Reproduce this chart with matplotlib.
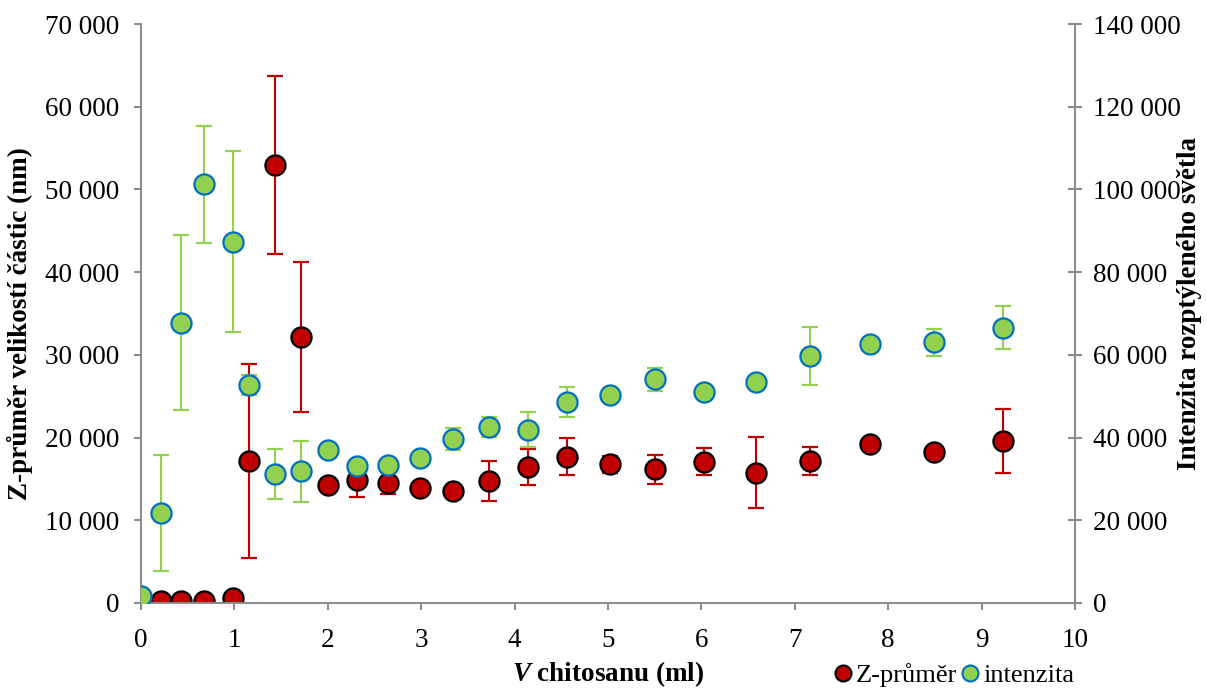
import numpy as np
import matplotlib
matplotlib.use("Agg")
import matplotlib.pyplot as plt
from matplotlib.ticker import FuncFormatter, MultipleLocator
from matplotlib.lines import Line2D

plt.rcParams['font.family'] = ['Liberation Serif', 'DejaVu Serif']
plt.rcParams['mathtext.fontset'] = 'custom'
plt.rcParams['mathtext.it'] = 'Liberation Serif:italic:bold'
plt.rcParams['mathtext.rm'] = 'Liberation Serif:bold'

# objem chitosanu (ml)
v_chitosan = [0, 0.21, 0.43, 0.67, 0.99, 1.16, 1.43, 1.71, 2.00, 2.31, 2.64, 2.99,
              3.34, 3.73, 4.14, 4.56, 5.02, 5.50, 6.03, 6.58, 7.16, 7.80, 8.49, 9.23]

# Z-prumer (nm), leva osa
z_prumer = [200, 250, 250, 250, 560, 17200, 52950, 32150, 14270, 14870, 14470, 13870,
            13540, 14750, 16480, 17690, 16770, 16160, 17090, 15760, 17200, 19180, 18200, 19600]
z_err = [0, 0, 0, 0, 0, 11750, 10750, 9050, 0, 2000, 1350, 600,
         0, 2450, 2180, 2200, 1060, 1740, 1640, 4250, 1670, 0, 0, 3870]

# intenzita rozptyleneho svetla, prava osa
intenzita = [1700, 21800, 67800, 101200, 87400, 52700, 31200, 31800, 36900, 33100, 33400, 35100,
             39600, 42500, 41900, 48600, 50300, 54100, 51000, 53400, 59800, 62600, 63000, 66600]
int_err = [0, 14050, 21200, 14150, 21800, 2500, 5950, 7450, 0, 0, 0, 0,
           2600, 2400, 4200, 3650, 0, 2750, 0, 0, 7000, 0, 3350, 5150]

RED = '#C00000'
GREEN = '#92D050'
BLUE = '#0070C0'
AXC = '#8C8C8C'
FS = 19.5

fig = plt.figure(figsize=(12.07, 6.88), dpi=100)
ax = fig.add_axes([141/1207, 85/688, 934/1207, 579/688])
ax2 = ax.twinx()

# intenzita (sekundarni osa) se kresli nad Z-prumerem
ax.errorbar(v_chitosan, z_prumer, yerr=z_err, fmt='o', ms=14.5,
            mfc=RED, mec='black', mew=1.6, ecolor=RED, elinewidth=1.5,
            capsize=5.5, capthick=1.5)
ax2.errorbar(v_chitosan, intenzita, yerr=int_err, fmt='o', ms=14.5,
             mfc=GREEN, mec=BLUE, mew=1.6, ecolor=GREEN, elinewidth=1.5,
             capsize=5.5, capthick=1.5)

fmt = FuncFormatter(lambda v, p: f"{int(v):,}".replace(",", " "))
ax.set_xlim(0, 10)
ax.set_ylim(0, 70000)
ax2.set_ylim(0, 140000)
ax.xaxis.set_major_locator(MultipleLocator(1))
ax.yaxis.set_major_locator(MultipleLocator(10000))
ax2.yaxis.set_major_locator(MultipleLocator(20000))
ax.yaxis.set_major_formatter(fmt)
ax2.yaxis.set_major_formatter(fmt)

for a in (ax, ax2):
    for s in a.spines.values():
        s.set_color(AXC)
        s.set_linewidth(1.5)
    a.spines['top'].set_visible(False)
ax.spines['right'].set_visible(False)
ax2.spines['left'].set_visible(False)
ax2.spines['bottom'].set_visible(False)

ax.tick_params(axis='both', colors=AXC, labelcolor='black', labelsize=FS,
               width=1.5, length=5, direction='out')
ax.tick_params(axis='y', pad=10.5)
ax.tick_params(axis='x', pad=13)
ax2.tick_params(axis='y', colors=AXC, labelcolor='black', labelsize=FS,
                width=1.5, length=10, direction='inout', pad=8)

fig.text(20/1207, 1 - 324/688, 'Z-průměr velikostí částic (nm)', rotation=90,
         ha='center', va='center', fontsize=FS, fontweight='bold')
fig.text(1190/1207, 1 - 303/688, 'Intenzita rozptýleného světla', rotation=90,
         ha='center', va='center', fontsize=FS, fontweight='bold')
fig.text(608/1207, 1 - 674/688, r'$\mathit{V}$ chitosanu (ml)',
         ha='center', va='center', fontsize=FS, fontweight='bold')

handles = [
    Line2D([], [], ls='none', marker='o', ms=11.5, mfc=RED, mec='black', mew=1.5),
    Line2D([], [], ls='none', marker='o', ms=11.5, mfc=GREEN, mec=BLUE, mew=1.5),
]
fig.legend(handles, ['Z-průměr', 'intenzita'], loc='center', ncol=2,
           bbox_to_anchor=(952/1207, 1 - 675/688), frameon=False, fontsize=19,
           handletextpad=0.0, columnspacing=0.0, handlelength=1.0, borderpad=0)

fig.savefig('out.png', dpi=100)
